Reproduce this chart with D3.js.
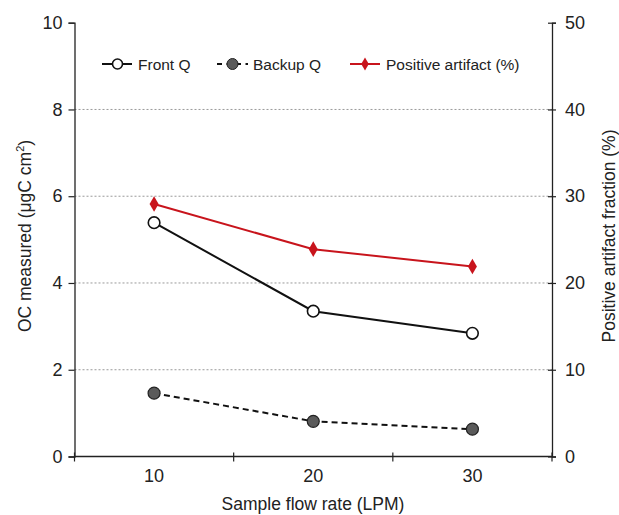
<!DOCTYPE html>
<html><head><meta charset="utf-8">
<script src="https://cdn.jsdelivr.net/npm/d3@7"></script>
<style>body{margin:0;background:#fff}svg{display:block}text{font-family:"Liberation Sans",Arial,sans-serif;fill:#222}</style>
</head><body><svg id="c" width="619" height="515"></svg>
<script>
const categories = ["10","20","30"];
const frontQ = [5.39, 3.35, 2.84];
const backupQ = [1.46, 0.81, 0.63];
const artifact = [29.1, 23.9, 21.9];
const leftTicks = [0,2,4,6,8,10];
const rightTicks = [0,10,20,30,40,50];

const svg = d3.select("#c");
const L=74.5, R=552, T=22.7, B=456.5;
const x = d3.scaleBand().domain(categories).range([L,R]);
const y = d3.scaleLinear().domain([0,10]).range([B,T]);
const y2 = d3.scaleLinear().domain([0,50]).range([B,T]);

// grid
svg.append("g").selectAll("line").data([2,4,6,8]).join("line")
  .attr("x1",L).attr("x2",R).attr("y1",d=>y(d)).attr("y2",d=>y(d))
  .attr("stroke","#999").attr("stroke-width",1).attr("stroke-dasharray","2,2");

// axes
const gl = svg.append("g").attr("transform",`translate(${L},0)`)
  .call(d3.axisLeft(y).tickValues(leftTicks).tickSize(6).tickPadding(6).tickFormat(d3.format("d")));
const gr = svg.append("g").attr("transform",`translate(${R},0)`)
  .call(d3.axisRight(y2).tickValues(rightTicks).tickSize(4).tickPadding(9).tickFormat(d3.format("d")));
gr.selectAll(".tick line").attr("x1",-4);
const gb = svg.append("g").attr("transform",`translate(0,${B})`)
  .call(d3.axisBottom(x).tickSize(0).tickPadding(13));
const bounds = categories.map(c=>x(c)).concat([R]);
gb.append("g").selectAll("line").data(bounds).join("line")
  .attr("x1",d=>d).attr("x2",d=>d).attr("y1",-4).attr("y2",5).attr("stroke","#222").attr("stroke-width",1.2);
[gl,gr,gb].forEach(g=>{
  g.select(".domain").attr("stroke","#222").attr("stroke-width",1.3);
  g.selectAll(".tick line").attr("stroke","#222").attr("stroke-width",1.2);
  g.selectAll("text").attr("font-size",18).attr("fill","#222").attr("font-family","'Liberation Sans',Arial,sans-serif");
});
gb.select(".domain").attr("d",`M${L},0H${R}`);

const cx = d=>x(d)+x.bandwidth()/2;
const line = d3.line().x(d=>cx(d[0])).y(d=>d[1]);

const red = "#c8141c";
svg.append("path").datum(categories.map((c,i)=>[c,y2(artifact[i])]))
  .attr("d",line).attr("fill","none").attr("stroke",red).attr("stroke-width",2);
svg.append("path").datum(categories.map((c,i)=>[c,y(frontQ[i])]))
  .attr("d",line).attr("fill","none").attr("stroke","#111").attr("stroke-width",2);
svg.append("path").datum(categories.map((c,i)=>[c,y(backupQ[i])]))
  .attr("d",line).attr("fill","none").attr("stroke","#111").attr("stroke-width",2).attr("stroke-dasharray","6,4");

const diamond = d3.symbol().type(d3.symbolDiamond).size(70);
svg.append("g").selectAll("path").data(categories).join("path")
  .attr("transform",(c,i)=>`translate(${cx(c)},${y2(artifact[i])})`)
  .attr("d",diamond).attr("fill",red);
svg.append("g").selectAll("circle").data(categories).join("circle")
  .attr("cx",c=>cx(c)).attr("cy",(c,i)=>y(frontQ[i])).attr("r",5.8)
  .attr("fill","#fff").attr("stroke","#111").attr("stroke-width",1.6);
svg.append("g").selectAll("circle").data(categories).join("circle")
  .attr("cx",c=>cx(c)).attr("cy",(c,i)=>y(backupQ[i])).attr("r",6)
  .attr("fill","#5a5a5a").attr("stroke","#222").attr("stroke-width",1.2);

// legend
const ly = 64;
const lg = svg.append("g");
lg.append("line").attr("x1",102).attr("x2",132).attr("y1",ly).attr("y2",ly).attr("stroke","#111").attr("stroke-width",2);
lg.append("circle").attr("cx",117.5).attr("cy",ly).attr("r",5).attr("fill","#fff").attr("stroke","#111").attr("stroke-width",1.6);
lg.append("text").attr("x",138).attr("y",ly+5.5).attr("font-size",15.5).text("Front Q");
lg.append("line").attr("x1",217).attr("x2",248).attr("y1",ly).attr("y2",ly).attr("stroke","#111").attr("stroke-width",2).attr("stroke-dasharray","5,4.5");
lg.append("circle").attr("cx",232.5).attr("cy",ly).attr("r",5.5).attr("fill","#5a5a5a").attr("stroke","#222").attr("stroke-width",1);
lg.append("text").attr("x",253).attr("y",ly+5.5).attr("font-size",15.5).text("Backup Q");
lg.append("line").attr("x1",350).attr("x2",380).attr("y1",ly).attr("y2",ly).attr("stroke",red).attr("stroke-width",2);
lg.append("path").attr("transform",`translate(365,${ly})`).attr("d",d3.symbol().type(d3.symbolDiamond).size(50)).attr("fill",red);
lg.append("text").attr("x",386).attr("y",ly+5.5).attr("font-size",15.5).text("Positive artifact (%)");

// axis titles
svg.append("text").attr("transform","translate(31,236) rotate(-90)").attr("text-anchor","middle").attr("font-size",17.5)
  .html('OC measured (μgC cm<tspan dy="-7" font-size="11">2</tspan><tspan dy="7">)</tspan>');
svg.append("text").attr("transform","translate(615,236) rotate(-90)").attr("text-anchor","middle").attr("font-size",17.5)
  .text("Positive artifact fraction (%)");
svg.append("text").attr("x",313).attr("y",510).attr("text-anchor","middle").attr("font-size",17.5)
  .text("Sample flow rate (LPM)");
</script></body></html>
